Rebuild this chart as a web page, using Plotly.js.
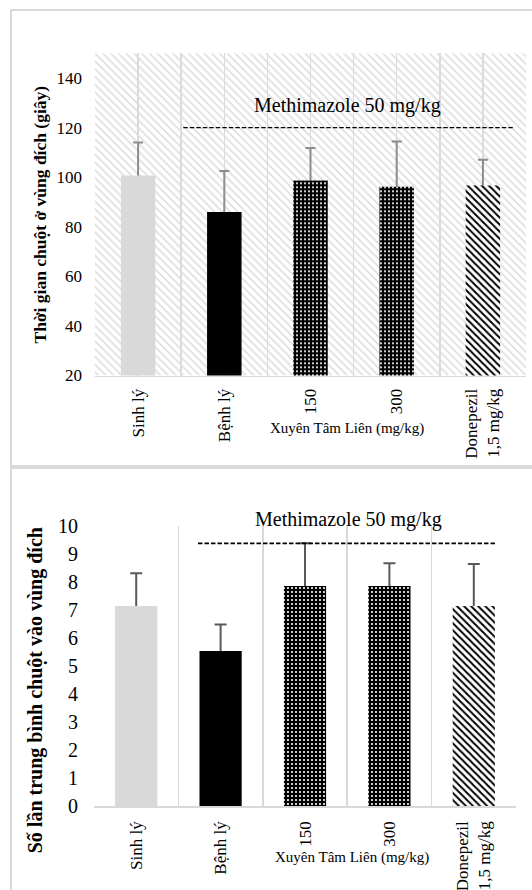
<!DOCTYPE html>
<html><head><meta charset="utf-8">
<script src="https://cdn.plot.ly/plotly-3.0.1.min.js"></script>
<style>
html,body{margin:0;padding:0;background:#fff;width:532px;height:890px;overflow:hidden;}
.panel{position:absolute;box-sizing:border-box;border:2px solid #d9d9d9;overflow:hidden;background:#fff;}
#p1{left:10px;top:9px;width:560px;height:458px;}
#p2{left:10px;top:467px;width:560px;height:440px;}
.plot{position:absolute;left:0;top:0;}
</style></head><body>
<div id="p1" class="panel"><div id="c1" class="plot"></div></div>
<div id="p2" class="panel"><div id="c2" class="plot"></div></div>
<script>
// ---- data ----
const categories = ["Sinh lý", "Bệnh lý", "150", "300", "Donepezil 1,5 mg/kg"];
const tickLabels = ["Sinh lý", "Bệnh lý", "150", "300", "Donepezil<br>1,5 mg/kg"];
const timeValues = [100.7, 86.0, 98.7, 96.2, 96.7];
const timeErrors = [13.3, 16.5, 13.1, 18.2, 10.4];
const entryValues = [7.14, 5.54, 7.86, 7.86, 7.14];
const entryErrors = [1.17, 0.94, 1.52, 0.81, 1.50];
const groupLabel = "Methimazole 50 mg/kg";
const xTitle = "Xuyên Tâm Liên (mg/kg)";
const yTitleTop = "Thời gian chuột ở vùng đích (giây)";
const yTitleBottom = "Số lần trung bình chuột vào vùng đích";

// ---- styles ----
const F = 'Liberation Serif';
const barStyles = [
  {color: '#d9d9d9'},
  {color: '#000000'},
  {color: '#000000', pattern: {shape: '.', fgcolor: '#ffffff', bgcolor: '#000000', size: 4, solidity: 0.22, fillmode: 'replace'}},
  {color: '#000000', pattern: {shape: '.', fgcolor: '#ffffff', bgcolor: '#000000', size: 4, solidity: 0.22, fillmode: 'replace'}},
  {color: '#ffffff', pattern: {shape: '\\', fgcolor: '#000000', bgcolor: '#ffffff', size: 5, solidity: 0.4, fillmode: 'replace'}}
];

function barTraces(values, errors, width, xa, errColor, errThick, errWidth) {
  // transparent carrier for the error bars, drawn first so the bars hide the lower part
  const carrier = {
    type: 'bar', x: categories, y: values, width: width, xaxis: xa, yaxis: 'y', hoverinfo: 'skip',
    marker: {color: 'rgba(0,0,0,0)', line: {width: 0}},
    error_y: {type: 'data', symmetric: false, array: errors, arrayminus: values.map(v => v / 2),
      color: errColor, thickness: errThick, width: errWidth}
  };
  const bars = categories.map((c, i) => ({
    type: 'bar', x: [c], y: [values[i]], width: width, xaxis: xa, yaxis: 'y', hoverinfo: 'skip',
    marker: Object.assign({line: {width: 0}}, barStyles[i])
  }));
  return [carrier].concat(bars);
}

// ---- top chart ----
const Y1 = [20, 150];
const W1 = 556, H1 = 454, O1 = [12, 11];
const px1 = x => (x - O1[0]) / W1, py1 = y => 1 - (y - O1[1]) / H1;

const hatch = {
  type: 'bar', x: categories, y: categories.map(() => Y1[1] - Y1[0]), base: Y1[0], width: 1,
  xaxis: 'x', yaxis: 'y', hoverinfo: 'skip',
  marker: {color: 'rgba(0,0,0,0)', line: {width: 0},
    pattern: {shape: '\\', fgcolor: '#dedede', bgcolor: 'rgba(0,0,0,0)', size: 5.5, solidity: 0.3}}
};
const layout1 = {
  width: W1, height: H1, margin: {l: 0, r: 0, t: 0, b: 0, autoexpand: false},
  paper_bgcolor: 'rgba(0,0,0,0)', plot_bgcolor: 'rgba(0,0,0,0)', showlegend: false, barmode: 'overlay',
  xaxis: {domain: [px1(95), px1(526)], type: 'category', categoryorder: 'array', categoryarray: categories,
    range: [-0.5, 4.5], tickson: 'boundaries', showgrid: true, gridcolor: '#d9d9d9', gridwidth: 1.5,
    showticklabels: false, ticks: '', showline: false, zeroline: false, fixedrange: true},
  xaxis2: {overlaying: 'x', anchor: 'y', type: 'category', categoryorder: 'array', categoryarray: categories,
    range: [-0.5, 4.5], tickvals: categories, ticktext: tickLabels, tickangle: -90,
    showgrid: true, gridcolor: '#d9d9d9', gridwidth: 1.5, showline: true, linecolor: '#d9d9d9', linewidth: 1.5,
    ticks: '', tickfont: {family: F, size: 17, color: '#000'}, ticklabelstandoff: 5, fixedrange: true},
  yaxis: {domain: [py1(375.5), py1(53.3)], range: Y1, tick0: 20, dtick: 20, showgrid: false, zeroline: false,
    showline: false, ticks: '', tickfont: {family: F, size: 17, color: '#000'}, ticklabelstandoff: 12, fixedrange: true},
  shapes: [{type: 'line', xref: 'x2', yref: 'y', x0: 0.524, x1: 4.352, y0: 120, y1: 120, layer: 'above',
    line: {color: '#000', width: 1.4, dash: '4.5px,2px'}}],
  annotations: [
    {xref: 'paper', yref: 'paper', x: px1(39), y: py1(214.5), text: '<b>' + yTitleTop + '</b>', textangle: -90,
      showarrow: false, xanchor: 'center', yanchor: 'middle', font: {family: F, size: 17.5, color: '#000'}},
    {xref: 'paper', yref: 'paper', x: px1(347.5), y: py1(106), text: groupLabel,
      showarrow: false, xanchor: 'center', yanchor: 'middle', font: {family: F, size: 20, color: '#000'}},
    {xref: 'paper', yref: 'paper', x: px1(346.7), y: py1(428), text: xTitle,
      showarrow: false, xanchor: 'center', yanchor: 'middle', font: {family: F, size: 15, color: '#000'}}
  ]
};
Plotly.newPlot('c1', [hatch].concat(barTraces(timeValues, timeErrors, 0.4, 'x2', '#8c8c8c', 2, 5)),
  layout1, {displayModeBar: false, staticPlot: true});

// ---- bottom chart ----
const Y2 = [0, 10];
const W2 = 556, H2 = 421, O2 = [12, 469];
const px2 = x => (x - O2[0]) / W2, py2 = y => 1 - (y - O2[1]) / H2;

const layout2 = {
  width: W2, height: H2, margin: {l: 0, r: 0, t: 0, b: 0, autoexpand: false},
  paper_bgcolor: 'rgba(0,0,0,0)', plot_bgcolor: 'rgba(0,0,0,0)', showlegend: false, barmode: 'overlay',
  xaxis: {domain: [px2(94), px2(516)], type: 'category', categoryorder: 'array', categoryarray: categories,
    range: [-0.5, 4.5], tickvals: categories, ticktext: tickLabels, tickangle: -90, tickson: 'boundaries',
    showgrid: true, gridcolor: '#d9d9d9', gridwidth: 1.5, showline: true, linecolor: '#d9d9d9', linewidth: 1.5,
    ticks: '', tickfont: {family: F, size: 17, color: '#000'}, ticklabelstandoff: 7, fixedrange: true},
  yaxis: {domain: [py2(806), py2(526)], range: Y2, dtick: 1, showgrid: false, zeroline: false,
    showline: false, ticks: '', tickfont: {family: F, size: 20, color: '#000'}, ticklabelstandoff: 15, fixedrange: true},
  shapes: [{type: 'line', xref: 'x', yref: 'y', x0: 0.732, x1: 4.263, y0: 9.38, y1: 9.38, layer: 'above',
    line: {color: '#000', width: 1.8, dash: '4.5px,2px'}}],
  annotations: [
    {xref: 'paper', yref: 'paper', x: px2(35.5), y: py2(690.8), text: '<b>' + yTitleBottom + '</b>', textangle: -90,
      showarrow: false, xanchor: 'center', yanchor: 'middle', font: {family: F, size: 20, color: '#000'}},
    {xref: 'paper', yref: 'paper', x: px2(348), y: py2(520), text: groupLabel,
      showarrow: false, xanchor: 'center', yanchor: 'middle', font: {family: F, size: 20, color: '#000'}},
    {xref: 'paper', yref: 'paper', x: px2(351.7), y: py2(857), text: xTitle,
      showarrow: false, xanchor: 'center', yanchor: 'middle', font: {family: F, size: 15, color: '#000'}}
  ]
};
Plotly.newPlot('c2', barTraces(entryValues, entryErrors, 0.5, 'x', '#595959', 2, 6),
  layout2, {displayModeBar: false, staticPlot: true});
</script>
</body></html>
